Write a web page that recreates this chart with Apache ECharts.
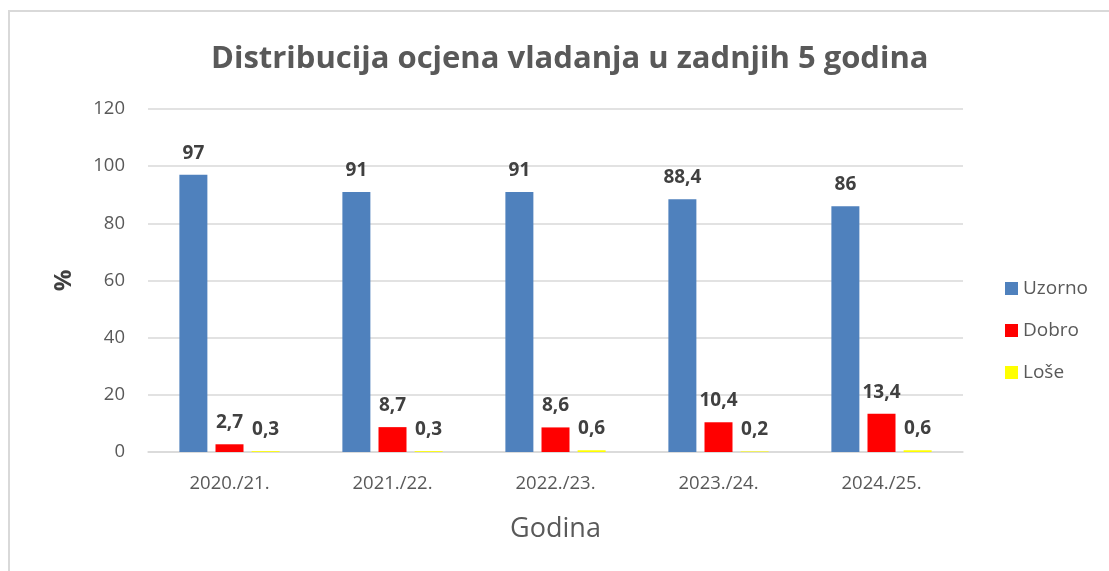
<!DOCTYPE html>
<html>
<head>
<meta charset="utf-8">
<script src="https://cdn.jsdelivr.net/npm/echarts@6/dist/echarts.min.js"></script>
<style>
    html, body { margin: 0; padding: 0; background: #fff; }
    #myChart { width: 1109px; height: 571px; }
    #frame { position: absolute; left: 8px; top: 10px; width: 1120px; height: 600px;
             border-left: 2px solid #d9d9d9; border-top: 2px solid #d9d9d9; pointer-events: none; }
</style>
</head>
<body>
<div id="myChart"></div>
<div id="frame"></div>
<script>
var categories = ['2020./21.', '2021./22.', '2022./23.', '2023./24.', '2024./25.'];
var uzorno = [97, 91, 91, 88.4, 86];
var dobro = [2.7, 8.7, 8.6, 10.4, 13.4];
var lose = [0.3, 0.3, 0.6, 0.2, 0.6];
var yTicks = [0, 20, 40, 60, 80, 100, 120];

var font = '"Open Sans", sans-serif';
var labelStyle = {
    show: true,
    position: 'top',
    distance: 12,
    fontFamily: font,
    fontWeight: 'bold',
    fontSize: 19,
    color: '#404040',
    formatter: function (p) { return String(p.value).replace('.', ','); }
};

var chart = echarts.init(document.querySelector('#myChart'));
var option = {
    animation: false,
    title: {
        text: 'Distribucija ocjena vladanja u zadnjih 5 godina',
        left: 206,
        top: 39,
        textStyle: { fontFamily: font, fontSize: 31, fontWeight: 'bold', color: '#595959' }
    },
    legend: {
        orient: 'vertical',
        left: 1000,
        top: 274,
        itemWidth: 13,
        itemHeight: 13,
        itemGap: 23,
        icon: 'rect',
        textStyle: { fontFamily: font, fontSize: 19, color: '#595959' },
        data: ['Uzorno', 'Dobro', 'Loše']
    },
    grid: { left: 148, right: 146, top: 109, bottom: 119 },
    xAxis: {
        type: 'category',
        data: categories,
        name: 'Godina',
        nameLocation: 'middle',
        nameGap: 64,
        nameTextStyle: { fontFamily: font, fontSize: 27, color: '#595959' },
        axisLine: { lineStyle: { color: '#d9d9d9', width: 1.5 } },
        axisTick: { show: false },
        axisLabel: { fontFamily: font, fontSize: 18.5, color: '#595959', margin: 22 }
    },
    yAxis: {
        type: 'value',
        min: 0,
        max: 120,
        interval: 20,
        name: '%',
        nameLocation: 'middle',
        nameGap: 72,
        nameTextStyle: { fontFamily: font, fontSize: 24, fontWeight: 'bold', color: '#404040' },
        axisLine: { show: false },
        axisTick: { show: false },
        splitLine: { lineStyle: { color: '#d9d9d9', width: 1.5 } },
        axisLabel: {
            fontFamily: font, fontSize: 18.5, color: '#595959', margin: 23,
            formatter: function (v) { return yTicks.indexOf(v) >= 0 ? String(v) : ''; }
        }
    },
    series: [
        { name: 'Uzorno', type: 'bar', data: uzorno, barWidth: 28, barGap: '29%',
          itemStyle: { color: '#4f81bd' }, label: labelStyle },
        { name: 'Dobro', type: 'bar', data: dobro, barWidth: 28, barGap: '29%',
          itemStyle: { color: '#ff0000' }, label: labelStyle },
        { name: 'Loše', type: 'bar', data: lose, barWidth: 28, barGap: '29%',
          itemStyle: { color: '#ffff00' }, label: labelStyle }
    ]
};
chart.setOption(option);
</script>
</body>
</html>
